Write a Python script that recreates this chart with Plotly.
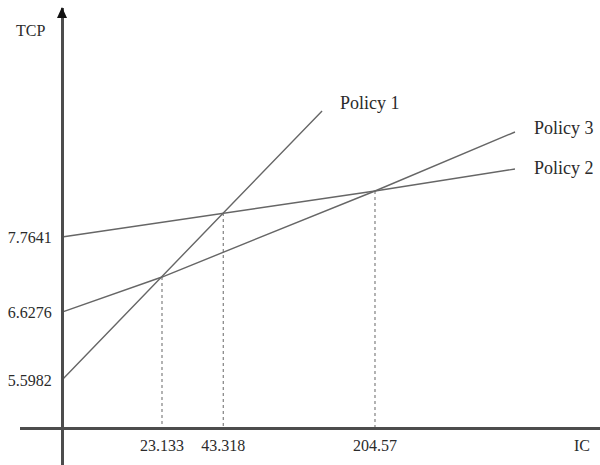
import math
import plotly.graph_objects as go

# Break-even IC values where the policy lines cross
ic_cross = [23.133, 43.318, 204.57]
ic_cross_labels = ["23.133", "43.318", "204.57"]

# TCP where each policy meets the TCP axis
policies = ["Policy 1", "Policy 2", "Policy 3"]
tcp_intercept = [5.5982, 7.7641, 6.6276]
tcp_intercept_labels = ["5.5982", "7.7641", "6.6276"]

# TCP at the crossings: (1,3) at 23.133, (1,2) at 43.318, (2,3) at 204.57
tcp_cross_13 = 7.158
tcp_cross_12 = 8.128
tcp_cross_23 = 8.461

# Far ends of the drawn lines
ic_end = [119, 857, 857]
tcp_end = [9.673, 8.794, 9.355]

W, H = 600, 465
X_DOMAIN = [20 / W, 1.0]
Y_AXIS_POS = 62 / W          # where the TCP axis stands
X_AXIS_POS = (H - 428) / H   # where the IC axis lies
Y_DOMAIN = [0.0, 1 - 8 / H]
X_RANGE = [0.7331, 3.3109]   # log10(IC)
Y_RANGE = [4.3107, 11.233]

# IC value at the TCP axis, from the axis placement
frac = (Y_AXIS_POS - X_DOMAIN[0]) / (X_DOMAIN[1] - X_DOMAIN[0])
ic_start = 10 ** (X_RANGE[0] + frac * (X_RANGE[1] - X_RANGE[0]))

paths = {
    "Policy 1": ([ic_start, ic_cross[0], ic_cross[1], ic_end[0]],
                 [tcp_intercept[0], tcp_cross_13, tcp_cross_12, tcp_end[0]]),
    "Policy 2": ([ic_start, ic_cross[1], ic_cross[2], ic_end[1]],
                 [tcp_intercept[1], tcp_cross_12, tcp_cross_23, tcp_end[1]]),
    "Policy 3": ([ic_start, ic_cross[0], ic_cross[2], ic_end[2]],
                 [tcp_intercept[2], tcp_cross_13, tcp_cross_23, tcp_end[2]]),
}

LINE_COLOR = "#666666"
TEXT_COLOR = "#2b2b2b"
FONT = "Liberation Serif, Times New Roman, serif"

fig = go.Figure()

# Dotted drop lines from each crossing to the IC axis
y_axis_bottom = Y_RANGE[0] + (X_AXIS_POS - Y_DOMAIN[0]) / (Y_DOMAIN[1] - Y_DOMAIN[0]) * (Y_RANGE[1] - Y_RANGE[0])
for xv, yv in zip(ic_cross, [tcp_cross_13, tcp_cross_12, tcp_cross_23]):
    fig.add_trace(go.Scatter(
        x=[xv, xv], y=[yv, y_axis_bottom], mode="lines",
        line=dict(color="#8a8a8a", width=1.3, dash="dot"),
        hoverinfo="skip", showlegend=False,
    ))

for name in policies:
    xs, ys = paths[name]
    fig.add_trace(go.Scatter(
        x=xs, y=ys, mode="lines", name=name,
        line=dict(color=LINE_COLOR, width=1.4),
        showlegend=False,
    ))

# Line labels at the far ends (annotation x on a log axis is log10)
label_offsets = {"Policy 1": (16, 8), "Policy 2": (17, 1), "Policy 3": (17, 4)}
for i, name in enumerate(policies):
    dx, dy = label_offsets[name]
    fig.add_annotation(
        x=math.log10(ic_end[i]), y=tcp_end[i], xref="x", yref="y",
        text=name, showarrow=False, xanchor="left", yanchor="middle",
        xshift=dx, yshift=dy,
        font=dict(family=FONT, size=18, color=TEXT_COLOR),
    )

# Axis titles
fig.add_annotation(x=30 / W, y=1 - 31 / H, xref="paper", yref="paper",
                   text="TCP", showarrow=False, xanchor="center", yanchor="middle",
                   font=dict(family=FONT, size=16, color=TEXT_COLOR))
fig.add_annotation(x=582 / W, y=1 - 445 / H, xref="paper", yref="paper",
                   text="IC", showarrow=False, xanchor="center", yanchor="middle",
                   font=dict(family=FONT, size=16, color=TEXT_COLOR))

# Arrow head on the TCP axis
tip_x, tip_y = Y_AXIS_POS, 1 - 7 / H
fig.add_shape(
    type="path", xref="paper", yref="paper",
    path=(f"M {tip_x} {tip_y} L {tip_x - 5 / W} {1 - 18 / H} "
          f"L {tip_x + 5 / W} {1 - 18 / H} Z"),
    fillcolor="#111111", line=dict(color="#111111", width=0),
)

fig.update_layout(
    width=W, height=H,
    margin=dict(l=0, r=0, t=0, b=0),
    paper_bgcolor="white", plot_bgcolor="white",
    xaxis=dict(
        type="log", range=X_RANGE, domain=X_DOMAIN,
        anchor="free", position=X_AXIS_POS,
        showline=True, linecolor="#4d4d4d", linewidth=3,
        showgrid=False, zeroline=False, ticks="",
        tickmode="array", tickvals=ic_cross, ticktext=ic_cross_labels,
        tickfont=dict(family=FONT, size=16, color=TEXT_COLOR),
        ticklabelstandoff=2,
    ),
    yaxis=dict(
        range=Y_RANGE, domain=Y_DOMAIN,
        anchor="free", position=Y_AXIS_POS,
        showline=True, linecolor="#4d4d4d", linewidth=3,
        showgrid=False, zeroline=False, ticks="",
        tickmode="array", tickvals=tcp_intercept, ticktext=tcp_intercept_labels,
        tickfont=dict(family=FONT, size=16, color=TEXT_COLOR),
        ticklabelstandoff=6,
    ),
)

fig.write_html("out.html")
